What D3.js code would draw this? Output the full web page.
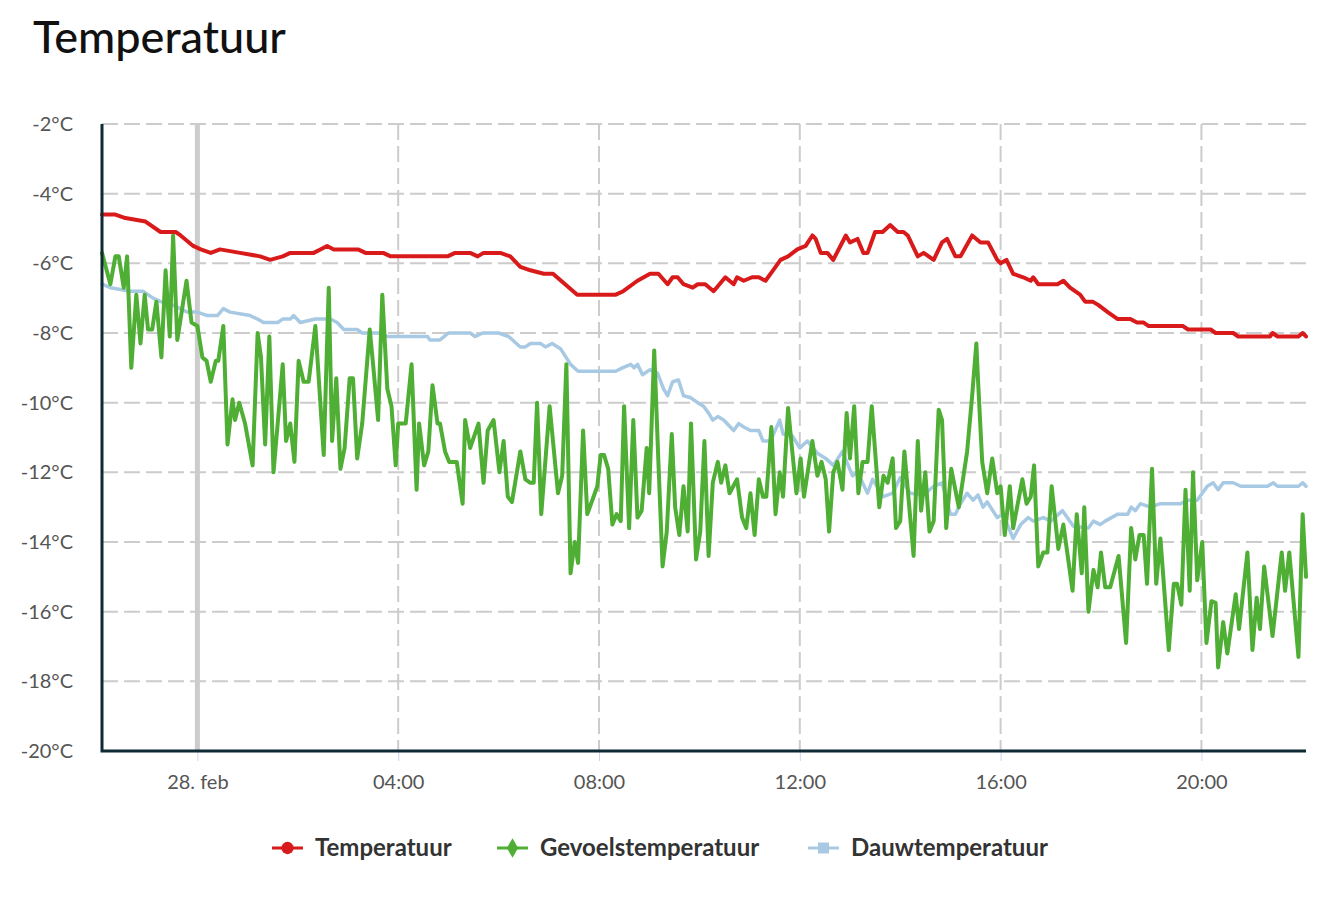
<!DOCTYPE html>
<html>
<head>
<meta charset="utf-8">
<script src="https://cdn.jsdelivr.net/npm/d3@7"></script>
<style>
  body { margin: 0; background: #fff; }
  svg { font-family: Lato, "Open Sans", sans-serif; }
</style>
</head>
<body>
<svg width="1330" height="908"></svg>
<script>
// tijden in minuten t.o.v. 28 feb 00:00
var temperatuur = [
    [-114, -4.6], [-98, -4.6], [-86, -4.7], [-62, -4.8], [-44, -5.1], [-26, -5.1], [-20, -5.2],
    [-5, -5.5], [4, -5.6], [16, -5.7], [27, -5.6], [51, -5.7], [75, -5.8], [87, -5.9], [102, -5.8],
    [111, -5.7], [139, -5.7], [147, -5.6], [155, -5.5], [163, -5.6], [192, -5.6], [201, -5.7],
    [222, -5.7], [231, -5.8], [299, -5.8], [308, -5.7], [326, -5.7], [335, -5.8], [342, -5.7],
    [362, -5.7], [374, -5.8], [386, -6.1], [398, -6.2], [414, -6.3], [425, -6.3], [454, -6.9],
    [500, -6.9], [509, -6.8], [526, -6.5], [541, -6.3], [551, -6.3], [562, -6.6], [568, -6.4],
    [574, -6.4], [581, -6.6], [592, -6.7], [598, -6.6], [607, -6.6], [617, -6.8], [631, -6.4],
    [641, -6.6], [645, -6.4], [653, -6.5], [663, -6.4], [671, -6.4], [679, -6.5], [688, -6.2],
    [697, -5.9], [706, -5.8], [717, -5.6], [727, -5.5], [735, -5.2], [739, -5.3], [745, -5.7],
    [753, -5.7], [760, -5.9], [775, -5.2], [780, -5.4], [789, -5.3], [796, -5.7], [801, -5.7],
    [810, -5.1], [819, -5.1], [828, -4.9], [837, -5.1], [844, -5.1], [849, -5.2], [861, -5.8],
    [868, -5.7], [880, -5.9], [890, -5.4], [896, -5.3], [906, -5.8], [912, -5.8], [926, -5.2],
    [936, -5.4], [945, -5.4], [956, -5.9], [960, -6.0], [967, -5.9], [975, -6.3], [987, -6.4],
    [996, -6.5], [999, -6.4], [1005, -6.6], [1028, -6.6], [1035, -6.5], [1043, -6.7], [1055, -6.9],
    [1061, -7.1], [1070, -7.1], [1077, -7.2], [1088, -7.4], [1100, -7.6], [1115, -7.6], [1123, -7.7],
    [1131, -7.7], [1137, -7.8], [1178, -7.8], [1184, -7.9], [1211, -7.9], [1217, -8.0], [1238, -8.0],
    [1244, -8.1], [1282, -8.1], [1285, -8.0], [1291, -8.1], [1316, -8.1], [1321, -8.0], [1325, -8.1]
]

var gevoelstemperatuur = [
    [-114, -5.7], [-104, -6.6], [-98, -5.8], [-94, -5.8], [-88, -6.7], [-84, -5.8], [-79, -9.0],
    [-73, -6.9], [-68, -8.3], [-63, -6.9], [-59, -7.9], [-54, -7.9], [-49, -7.1], [-43, -8.7],
    [-38, -6.2], [-33, -8.1], [-29, -5.2], [-24, -8.2], [-13, -6.5], [-7, -7.7], [0, -7.8],
    [6, -8.7], [11, -8.8], [16, -9.4], [22, -8.8], [25, -8.8], [31, -7.8], [36, -11.2], [42, -9.9],
    [45, -10.5], [50, -10.0], [57, -10.6], [66, -11.8], [72, -8.0], [76, -8.7], [81, -11.2],
    [86, -8.1], [91, -12.0], [102, -8.9], [106, -11.1], [111, -10.6], [116, -11.7], [121, -8.8],
    [127, -9.4], [133, -9.4], [141, -7.8], [151, -11.5], [157, -6.7], [161, -11.1], [166, -9.3],
    [171, -11.9], [176, -11.3], [182, -9.3], [186, -9.3], [191, -11.6], [197, -10.6], [206, -7.9],
    [210, -8.9], [216, -10.5], [221, -6.9], [227, -9.6], [232, -10.1], [237, -11.8], [240, -10.6],
    [249, -10.6], [256, -8.9], [262, -12.5], [265, -10.6], [271, -11.8], [276, -11.4], [281, -9.5],
    [287, -10.6], [290, -10.6], [296, -11.4], [301, -11.7], [310, -11.7], [317, -12.9], [320, -10.5],
    [326, -11.3], [336, -10.6], [342, -12.3], [347, -10.8], [354, -10.5], [361, -12.0], [366, -11.1],
    [371, -12.7], [376, -12.85], [386, -11.4], [392, -12.2], [398, -12.3], [402, -12.3], [406, -10.0],
    [411, -13.2], [421, -10.1], [431, -12.6], [436, -12.1], [441, -8.9], [446, -14.9], [451, -14.0],
    [455, -14.6], [461, -10.8], [466, -13.2], [478, -12.4], [482, -11.5], [486, -11.5], [491, -11.9],
    [496, -13.5], [501, -13.2], [506, -13.4], [510, -10.1], [516, -13.6], [521, -10.5], [526, -13.3],
    [531, -13.1], [537, -11.3], [540, -12.6], [546, -8.5], [551, -11.7], [556, -14.7], [561, -13.7],
    [567, -10.9], [571, -13.0], [576, -13.8], [581, -12.4], [586, -13.7], [590, -10.6], [596, -14.5],
    [601, -13.7], [606, -11.1], [611, -14.4], [616, -12.3], [622, -11.7], [626, -12.3], [631, -11.8],
    [636, -12.6], [645, -12.2], [651, -13.3], [656, -13.6], [661, -12.6], [666, -13.8], [671, -12.2],
    [676, -12.7], [680, -12.7], [686, -10.7], [691, -13.2], [696, -12.0], [700, -12.7], [706, -10.15],
    [711, -11.4], [716, -12.6], [721, -11.6], [725, -12.7], [735, -11.1], [741, -12.1], [746, -11.7],
    [751, -12.2], [755, -13.7], [760, -12.0], [765, -11.7], [771, -12.5], [776, -10.3], [780, -11.6],
    [785, -10.1], [790, -12.6], [795, -11.7], [801, -11.7], [806, -10.1], [815, -13.0], [820, -12.1],
    [825, -12.3], [831, -11.6], [835, -13.6], [840, -13.4], [845, -11.4], [856, -14.4], [861, -11.1],
    [865, -13.1], [870, -12.0], [875, -13.7], [880, -13.4], [886, -10.2], [890, -10.5], [895, -13.6],
    [901, -11.9], [910, -13.0], [920, -11.4], [926, -9.8], [931, -8.3], [933, -9.35], [938, -11.7],
    [944, -12.6], [950, -11.6], [956, -12.6], [960, -12.4], [965, -13.8], [971, -12.4], [975, -13.6],
    [986, -12.2], [991, -12.9], [996, -12.7], [1000, -11.8], [1005, -14.7], [1011, -14.3], [1016, -14.3],
    [1021, -12.4], [1029, -14.2], [1035, -13.5], [1046, -15.4], [1051, -13.2], [1057, -14.9], [1060, -13.0],
    [1065, -16.0], [1071, -14.8], [1076, -15.3], [1080, -14.3], [1085, -15.3], [1091, -15.3], [1101, -14.4],
    [1110, -16.9], [1116, -13.6], [1121, -14.5], [1126, -13.8], [1131, -13.8], [1135, -15.2], [1141, -11.9],
    [1146, -15.2], [1151, -13.9], [1161, -17.1], [1167, -15.2], [1171, -15.2], [1176, -15.8], [1181, -12.5],
    [1186, -15.4], [1190, -12.0], [1195, -15.1], [1201, -14.0], [1206, -16.9], [1212, -15.7], [1217, -15.75],
    [1220, -17.6], [1226, -16.3], [1231, -17.2], [1241, -15.5], [1245, -16.5], [1255, -14.3], [1261, -17.1],
    [1266, -15.6], [1270, -16.5], [1275, -14.7], [1285, -16.7], [1296, -14.3], [1300, -15.4], [1305, -14.3],
    [1316, -17.3], [1321, -13.2], [1325, -15.0]
]

var dauwtemperatuur = [
    [-114, -6.6], [-104, -6.7], [-80, -6.8], [-65, -6.8], [-53, -7.0], [-44, -7.1], [-29, -7.2],
    [-12, -7.4], [0, -7.4], [12, -7.5], [24, -7.5], [31, -7.3], [39, -7.4], [63, -7.5], [72, -7.6],
    [79, -7.7], [96, -7.7], [102, -7.6], [111, -7.6], [115, -7.5], [123, -7.7], [141, -7.6], [159, -7.6],
    [167, -7.7], [175, -7.9], [191, -7.9], [197, -8.0], [219, -8.0], [227, -8.1], [275, -8.1], [278, -8.2],
    [290, -8.2], [300, -8.0], [326, -8.0], [332, -8.1], [341, -8.0], [360, -8.0], [372, -8.1], [386, -8.4],
    [392, -8.4], [398, -8.3], [410, -8.3], [416, -8.4], [424, -8.3], [434, -8.45], [446, -8.9], [455, -9.1],
    [500, -9.1], [508, -9.0], [518, -8.9], [522, -9.0], [526, -8.9], [532, -9.2], [541, -9.05], [550, -9.15],
    [557, -9.6], [562, -9.8], [568, -9.4], [575, -9.35], [581, -9.8], [589, -9.85], [598, -10.0], [605, -10.1],
    [611, -10.3], [616, -10.5], [622, -10.4], [629, -10.5], [641, -10.8], [647, -10.6], [653, -10.7],
    [661, -10.8], [671, -10.8], [676, -11.1], [685, -11.1], [696, -10.5], [700, -10.9], [711, -10.95],
    [720, -11.3], [729, -11.1], [741, -11.45], [751, -11.6], [760, -11.8], [771, -11.4], [783, -12.1],
    [789, -12.0], [801, -12.6], [807, -12.2], [820, -12.7], [831, -12.6], [840, -12.15], [852, -12.6],
    [868, -12.65], [880, -12.4], [890, -12.3], [900, -13.2], [906, -13.2], [912, -12.9], [920, -12.6],
    [927, -12.8], [933, -12.65], [939, -13.0], [944, -12.85], [956, -13.3], [963, -13.2], [975, -13.9],
    [984, -13.5], [993, -13.3], [999, -13.4], [1011, -13.3], [1020, -13.4], [1034, -13.1], [1047, -13.55],
    [1065, -13.6], [1071, -13.4], [1079, -13.5], [1085, -13.4], [1100, -13.2], [1112, -13.2], [1116, -13.0],
    [1121, -13.1], [1127, -12.9], [1139, -13.0], [1151, -12.9], [1175, -12.9], [1183, -12.8], [1195, -12.8],
    [1207, -12.4], [1214, -12.3], [1220, -12.5], [1226, -12.3], [1238, -12.3], [1247, -12.4], [1279, -12.4],
    [1286, -12.3], [1291, -12.4], [1316, -12.4], [1321, -12.3], [1325, -12.4]
]

var yTicks = [-20, -18, -16, -14, -12, -10, -8, -6, -4, -2]

var series = [
    { name: "Temperatuur", data: temperatuur, color: "#d91a1a", width: 4, symbol: d3.symbolCircle },
    { name: "Gevoelstemperatuur", data: gevoelstemperatuur, color: "#4fae34", width: 4, symbol: d3.symbolDiamond },
    { name: "Dauwtemperatuur", data: dauwtemperatuur, color: "#a8c9e3", width: 3.5, symbol: d3.symbolSquare }
]

var midnight = Date.UTC(2024, 1, 28)
var toDate = m => new Date(midnight + m * 60000)

var svg = d3.select("svg")
var pxLeft = 102, pxRight = 1306, pxTop = 124, pxBottom = 751

var scX = d3.scaleUtc()
    .domain([toDate(-114), toDate(1325)])
    .range([pxLeft, pxRight])

var scY = d3.scaleLinear()
    .domain([-20, -2])
    .range([pxBottom, pxTop])

// titel
svg.append("text")
    .attr("x", 33).attr("y", 53)
    .attr("font-size", 45).attr("font-weight", 500)
    .attr("fill", "#111")
    .text("Temperatuur")

// horizontale rasterlijnen
svg.append("g")
    .selectAll("line")
    .data(yTicks).enter()
    .append("line")
    .attr("x1", pxLeft).attr("x2", pxRight)
    .attr("y1", d => scY(d)).attr("y2", d => scY(d))
    .attr("stroke", "#cccccc").attr("stroke-width", 2)
    .attr("stroke-dasharray", "16,6")

var xTicks = scX.ticks(d3.utcHour.every(4))

// verticale rasterlijnen
svg.append("g")
    .selectAll("line")
    .data(xTicks).enter()
    .append("line")
    .attr("x1", d => scX(d)).attr("x2", d => scX(d))
    .attr("y1", pxTop).attr("y2", pxBottom)
    .attr("stroke", "#cccccc").attr("stroke-width", 2)
    .attr("stroke-dasharray", "16,6")

// dagscheiding
svg.append("line")
    .attr("x1", scX(toDate(0))).attr("x2", scX(toDate(0)))
    .attr("y1", pxTop).attr("y2", pxBottom)
    .attr("stroke", "#cccccc").attr("stroke-width", 5)

// y-as labels
svg.append("g")
    .selectAll("text")
    .data(yTicks).enter()
    .append("text")
    .attr("x", 73).attr("y", d => scY(d) + 7)
    .attr("text-anchor", "end")
    .attr("font-size", 20).attr("fill", "#555")
    .text(d => d + "°C")

// x-as
var fmt = d => d.getUTCHours() === 0 ? "28. feb" : d3.utcFormat("%H:%M")(d)
var xAxis = svg.append("g")
    .attr("transform", `translate(0, ${pxBottom})`)
    .call(d3.axisBottom(scX).tickValues(xTicks).tickFormat(fmt).tickSize(10).tickSizeOuter(0).tickPadding(14))
xAxis.select(".domain").remove()
xAxis.selectAll(".tick line").attr("stroke", "#ccd6eb").attr("stroke-width", 1)
xAxis.selectAll(".tick text")
    .attr("font-family", "Lato, 'Open Sans', sans-serif")
    .attr("font-size", 20).attr("fill", "#555")

// lijnen
var lineMaker = d3.line()
    .x(d => scX(toDate(d[0])))
    .y(d => scY(d[1]))

svg.append("g")
    .selectAll("path")
    .data(series.slice().reverse()).enter()
    .append("path")
    .attr("fill", "none")
    .attr("stroke", d => d.color)
    .attr("stroke-width", d => d.width)
    .attr("stroke-linejoin", "round")
    .attr("stroke-linecap", "round")
    .attr("d", d => lineMaker(d.data))

// assen
svg.append("path")
    .attr("d", `M${pxLeft},${pxTop}V${pxBottom}H${pxRight}`)
    .attr("fill", "none")
    .attr("stroke", "#0e2a35").attr("stroke-width", 3)

// legenda
var legendX = [272, 497, 808]
var legend = svg.append("g")
    .selectAll("g")
    .data(series).enter()
    .append("g")
    .attr("transform", (d, i) => `translate(${legendX[i]}, 848)`)

legend.append("line")
    .attr("x1", 0).attr("x2", 31)
    .attr("stroke", d => d.color).attr("stroke-width", 3)

legend.append("path")
    .attr("transform", "translate(15.5, 0)")
    .attr("d", d => d3.symbol().type(d.symbol).size(d.symbol === d3.symbolDiamond ? 110 : 120)())
    .attr("fill", d => d.color)

legend.append("text")
    .attr("x", 43).attr("y", 8)
    .attr("font-size", 24).attr("font-weight", 700)
    .attr("fill", "#333")
    .text(d => d.name)
</script>
</body>
</html>
